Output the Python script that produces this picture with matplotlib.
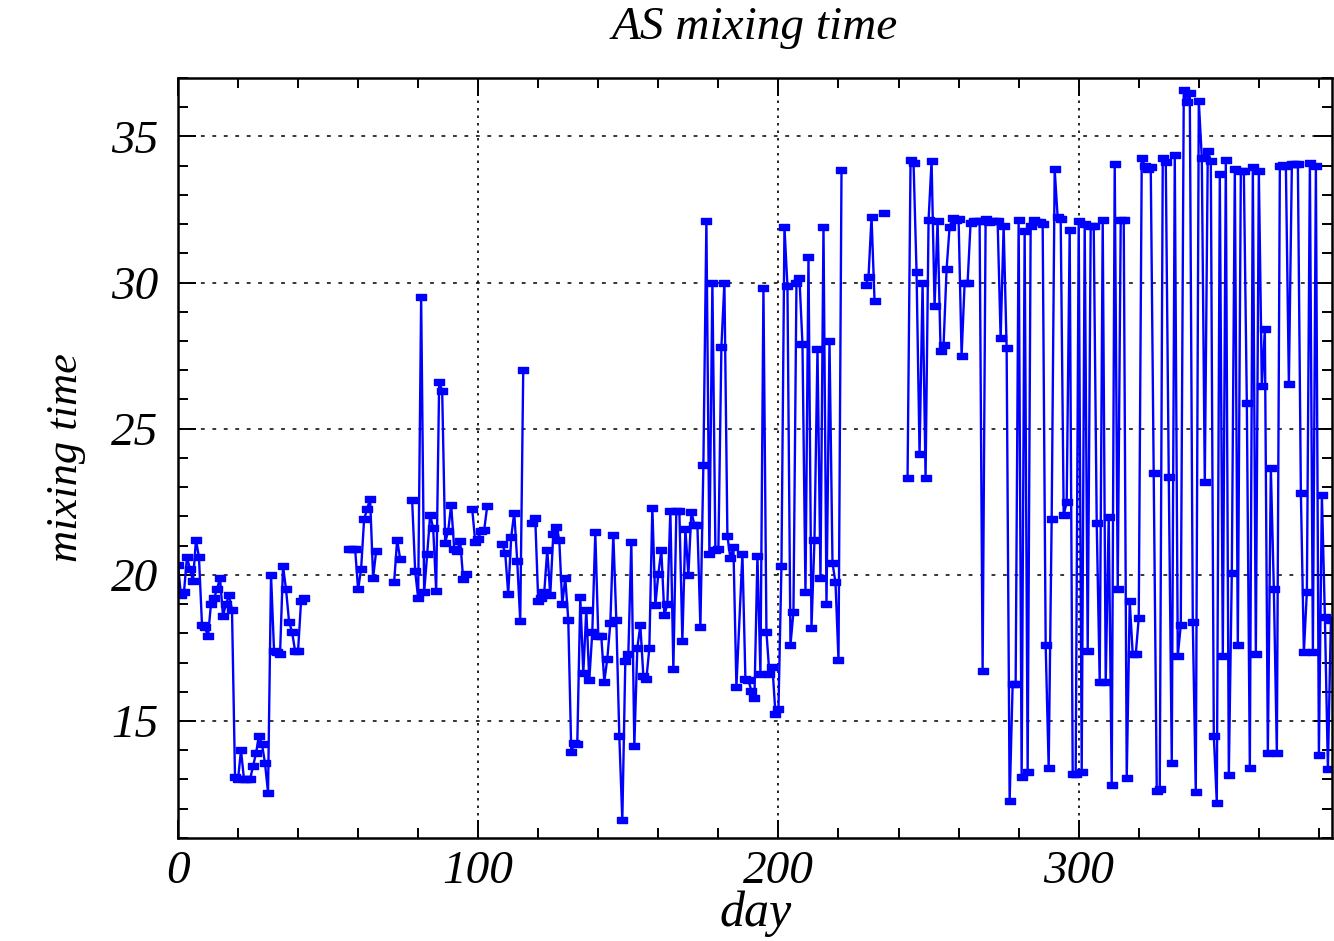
import numpy as np
import matplotlib
matplotlib.use("Agg")
import matplotlib.pyplot as plt
from matplotlib.ticker import MultipleLocator

# mixing time per day, one list per run of consecutive days
seg0 = [20.34, 19.3, 19.4, 20.6, 20.2, 19.8, 21.2, 20.6, 18.3, 18.2, 17.9, 19.0, 19.2,
        19.5, 19.9, 18.6, 19.0, 19.3, 18.8, 13.1, 13.0, 14.0, 13.0, 13.0, 13.0, 13.45,
        13.9, 14.5, 14.2, 13.55, 12.55, 20.0, 17.4, 17.35, 17.3, 20.3, 19.5, 18.4, 18.05,
        17.4, 17.4, 19.1, 19.2]
seg1 = [20.9, 20.9, 20.9, 19.5, 20.2, 21.9, 22.25, 22.6, 19.9, 20.8]
seg2 = [19.74, 21.2, 20.55]
seg3 = [22.55, 20.14, 19.2, 29.5, 19.4, 20.7, 22.05, 21.6, 19.46, 26.6, 26.3, 21.1,
        21.5, 22.4, 20.9, 20.83, 21.16, 19.86, 20.03]
seg4 = [22.26, 21.14, 21.24, 21.5, 21.54, 22.35]
seg5 = [21.06, 20.74, 19.35, 21.3, 22.13, 20.46, 18.42, 27.0]
seg6 = [21.77, 21.93, 19.09, 19.2, 19.4, 20.86, 19.3, 21.4, 21.65, 21.2, 19.0, 19.9,
        18.46, 13.93, 14.26, 14.23, 19.23, 16.63, 18.8, 16.4, 18.04, 21.45, 17.9, 17.9,
        16.35, 17.13, 18.34, 21.38, 18.46, 14.48, 11.6, 17.07, 17.28, 21.13, 14.16, 17.5,
        18.28, 16.55, 16.43, 17.49, 22.3, 18.96, 20.04, 20.84, 18.62, 19.0, 22.2, 16.77,
        22.2, 22.2, 17.73, 21.57, 19.99, 22.16, 21.72, 21.72, 18.23, 23.77, 32.1, 20.7,
        30.0, 20.85, 20.9, 27.8, 30.0, 21.33, 20.57, 20.94, 16.18]
seg7 = [20.72, 16.43, 16.4, 16.03, 15.8, 20.64, 16.6, 29.8, 18.04, 16.6, 16.86, 15.25,
        15.4, 20.29, 31.9, 29.87, 17.6, 18.74, 30.0, 30.14, 27.9, 19.4, 30.89, 18.19,
        21.2, 27.72, 19.9, 31.9, 19.0, 28.0, 20.4, 19.74, 17.08, 33.84]
seg8 = [29.9, 30.2, 32.25, 29.38]
seg9 = [32.37]
seg10 = [23.32, 34.19, 34.08, 30.35, 24.12, 29.97, 23.32, 32.15, 34.16, 29.2, 32.11,
         27.65, 27.87, 30.46, 31.9, 32.2, 32.15, 32.16, 27.5, 29.97, 30.0, 32.05, 32.1,
         32.1, 32.1, 16.7, 32.19, 32.08, 32.1, 32.1, 32.1, 28.09, 31.93, 27.75, 12.26,
         16.25, 16.25, 32.14, 13.07, 31.77, 13.27, 31.93, 32.14, 32.08, 32.08, 31.99,
         17.6, 13.41, 21.91, 33.87, 32.23, 32.19, 22.05, 22.48, 31.8, 13.2, 13.2, 32.1,
         13.26, 31.99, 17.4, 31.93, 31.93, 21.79, 16.33, 32.14, 16.33, 21.99, 12.81,
         34.07, 19.5, 32.14, 32.14, 13.04, 19.1, 17.28, 17.28, 18.52, 34.25, 34.0, 33.9,
         33.94, 23.47, 12.62, 12.66, 34.25, 34.14, 23.34, 13.57, 34.37, 17.23, 18.27,
         36.6, 36.16, 36.5, 18.39, 12.57, 36.21, 34.27, 23.17, 34.5, 34.17, 14.49, 12.21,
         33.7, 17.23, 34.2, 13.17, 20.07, 33.9, 17.6, 33.8, 33.8, 25.88, 13.4, 33.94,
         17.28, 33.8, 26.45, 28.4, 13.9, 23.64, 19.5, 13.9, 34.0, 34.02, 34.0, 26.53,
         34.04, 34.07, 34.04, 22.81, 17.36, 19.43, 34.1, 17.36, 34.0, 13.84, 22.72,
         18.55, 13.37, 18.44]

seg_start = [0, 57, 72, 78, 98, 108, 118, 188, 229, 235, 243]
segs = [seg0, seg1, seg2, seg3, seg4, seg5, seg6, seg7, seg8, seg9, seg10]
joined = [188]  # day 187 missing but line still drawn through

day, mix = [], []
for start, vals in zip(seg_start, segs):
    if day and start not in joined:
        day.append(np.nan)
        mix.append(np.nan)
    day.extend(range(start, start + len(vals)))
    mix.extend(vals)

font = {"family": "Liberation Serif", "style": "italic"}

fig = plt.figure(figsize=(13.34, 9.41), dpi=100)
ax = fig.add_axes([0.1334, 0.1095, 0.8654, 0.8077])

rect = [(-1, -0.6), (1, -0.6), (1, 0.6), (-1, 0.6), (-1, -0.6)]
ax.plot(day, mix, color="#0000ff", lw=1.7, marker=rect, ms=7,
        mfc="#0000ff", mec="#0000ff")

ax.set_xlim(0, 384.5)
ax.set_ylim(11, 37)
ax.xaxis.set_major_locator(MultipleLocator(100))
ax.xaxis.set_minor_locator(MultipleLocator(20))
ax.yaxis.set_major_locator(MultipleLocator(5))
ax.yaxis.set_minor_locator(MultipleLocator(1))
ax.set_yticks([15, 20, 25, 30, 35])

ax.xaxis.grid(True, which="major", color="k", linestyle=(0, (1.5, 3)), linewidth=1.2)
ax.yaxis.grid(True, which="major", color="k", linestyle=(0, (2.5, 5)), linewidth=1.1)
ax.tick_params(which="both", direction="in", top=True, right=True, width=1.4,
               colors="k", labelsize=34)
ax.tick_params(axis="y", pad=14)
ax.tick_params(axis="x", pad=9)
ax.tick_params(which="major", length=13)
ax.tick_params(which="minor", length=7)
for lab in ax.get_xticklabels() + ax.get_yticklabels():
    lab.set_family("Liberation Serif")
    lab.set_style("italic")
for sp in ax.spines.values():
    sp.set_linewidth(1.8)

ax.set_title("AS mixing time", fontdict=font, fontsize=34, pad=28)
ax.set_xlabel("day", fontdict=font, fontsize=36, labelpad=-2)
ax.set_ylabel("mixing time", fontdict=font, fontsize=32, labelpad=18)

fig.savefig("out.png", dpi=100)
